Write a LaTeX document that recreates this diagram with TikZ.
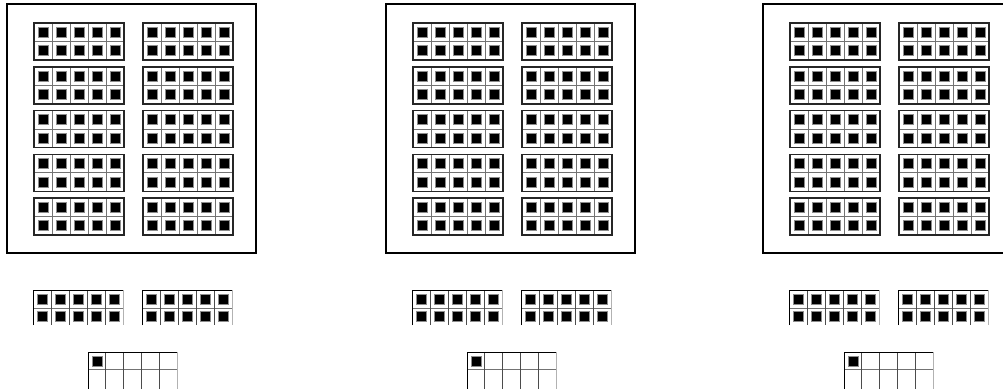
\documentclass[tikz,border=0pt]{standalone}
\begin{document}
\begin{tikzpicture}[x=1pt,y=-1pt,
  panel/.style={draw=black,line width=2.4pt},
  frameborder/.style={draw=black!85,line width=1.5pt},
  cellline/.style={draw=black!55,line width=0.9pt},
  lightline/.style={draw=black!30,line width=0.9pt},
  dot/.style={fill=black,draw=black!45,line width=1pt},
  tenframe/.pic={
    \foreach \i in {0,...,4}{\foreach \j in {0,1}{
      \path[dot] (4+18*\i,4.25+18.5*\j) rectangle ++(10,10);}}
    \foreach \i in {1,...,4}{\draw[cellline] (18*\i,0) -- (18*\i,37);}
    \draw[cellline] (0,18.5) -- (90,18.5);
    \draw[frameborder] (0,0) rectangle (90,37);
  },
  partframe/.pic={
    \foreach \i in {0,...,4}{\foreach \j in {0,1}{
      \path[dot] (4+18*\i,4+17.5*\j) rectangle ++(10,10);}}
    \draw[cellline] (0,18) -- (90,18);
    \foreach \i in {1,...,4}{\draw[draw=black!70,line width=0.9pt] (18*\i,0) -- (18*\i,35);}
    \draw[lightline] (90,0) -- (90,35);
    \draw[draw=black,line width=1pt] (0,35) -- (0,0) -- (90,0);
  },
  oneframe/.pic={
    \path[dot] (4,4) rectangle ++(10,10);
    \draw[cellline] (0,17) -- (89,17);
    \foreach \i in {1,...,4}{\draw[draw=black!70,line width=0.9pt] (17.8*\i,0) -- (17.8*\i,40);}
    \draw[lightline] (89,0) -- (89,40);
    \draw[draw=black,line width=1pt] (0,40) -- (0,0) -- (89,0);
  }]
\useasboundingbox (0,0) rectangle (1003,388);
\clip (0,0) rectangle (1003,388);
\foreach \bx in {7,386,763}{
  \draw[panel] (\bx,4) rectangle ++(249,249);
  \foreach \r in {0,...,4}{
    \pic at (\bx+27,23+43.75*\r) {tenframe};
    \pic at (\bx+136,23+43.75*\r) {tenframe};
  }
  \pic at (\bx+26,290) {partframe};
  \pic at (\bx+135,290) {partframe};
  \pic at (\bx+81,352) {oneframe};
}
\end{tikzpicture}
\end{document}
